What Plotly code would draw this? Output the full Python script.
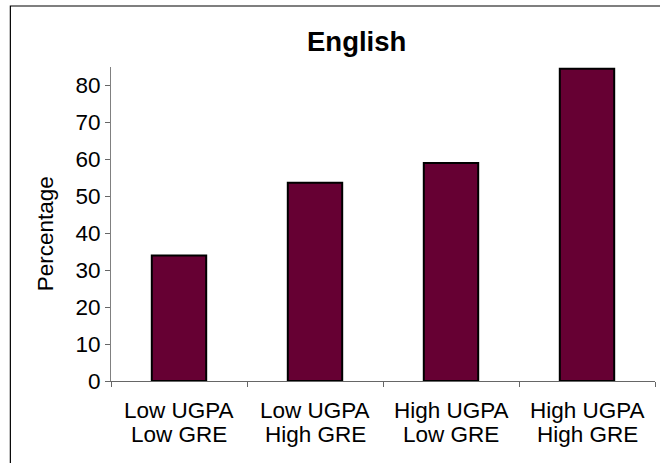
import plotly.graph_objects as go

categories = ["Low UGPA<br>Low GRE", "Low UGPA<br>High GRE", "High UGPA<br>Low GRE", "High UGPA<br>High GRE"]
values = [34.0, 53.7, 59.0, 84.5]
y_ticks = [0, 10, 20, 30, 40, 50, 60, 70, 80]
title_text = "English"
y_title = "Percentage"

W, H = 660, 463
L, R, T, B = 110.7, 5, 67, 82
pw = W - L - R
ph = H - T - B

def px_x(wx):
    return (wx - L) / pw

def px_y(wy):
    return (H - B - wy) / ph

FONT = "Liberation Sans, Arial, sans-serif"
FS = 22.5

fig = go.Figure(go.Bar(
    x=categories, y=values,
    marker=dict(color="#660033", line=dict(color="#000000", width=2)),
    width=0.40,
    hoverinfo="skip",
))

annotations = [
    dict(text="<b>%s</b>" % title_text, xref="paper", yref="paper",
         x=px_x(356), y=px_y(42), xanchor="center", yanchor="middle",
         showarrow=False, font=dict(family=FONT, size=27.5, color="#000000")),
    dict(text=y_title, xref="paper", yref="paper", textangle=-90,
         x=px_x(45), y=px_y(234), xanchor="center", yanchor="middle",
         showarrow=False, font=dict(family=FONT, size=FS, color="#000000")),
]
for cat in categories:
    line1, line2 = cat.split("<br>")
    for txt, wy in ((line1, 410), (line2, 434)):
        annotations.append(dict(text=txt, x=cat, xref="x", yref="paper", y=px_y(wy),
                                xanchor="center", yanchor="middle", showarrow=False,
                                font=dict(family=FONT, size=FS, color="#000000")))

fig.update_layout(
    width=W, height=H,
    margin=dict(l=L, r=R, t=T, b=B),
    paper_bgcolor="white", plot_bgcolor="white",
    showlegend=False,
    font=dict(family=FONT, size=FS, color="#000000"),
    xaxis=dict(
        type="category", showgrid=False, showline=True, linecolor="#666666", linewidth=1,
        ticks="outside", tickson="boundaries", ticklen=5, tickcolor="#666666",
        showticklabels=False,
    ),
    yaxis=dict(
        range=[0, 85], showgrid=False, showline=True, linecolor="#808080", linewidth=1,
        ticks="outside", ticklen=5, tickcolor="#666666", tickvals=y_ticks,
        tickfont=dict(family=FONT, size=FS, color="#000000"), zeroline=False,
    ),
    annotations=annotations,
    shapes=[
        dict(type="rect", xref="paper", yref="paper",
             x0=px_x(10), x1=px_x(680), y0=px_y(480), y1=px_y(6),
             line=dict(color="#000000", width=1.2), fillcolor="rgba(0,0,0,0)", layer="above"),
    ],
)

fig.write_html("out.html", config={"displayModeBar": False},
               post_script="document.body.style.margin='0';document.body.style.overflow='hidden';")
